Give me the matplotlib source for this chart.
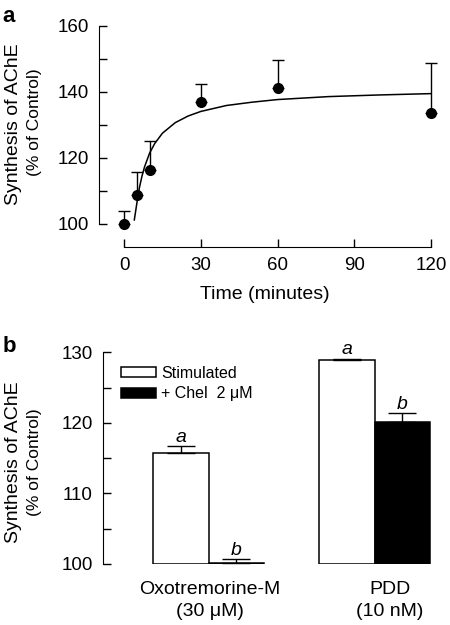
import matplotlib.pyplot as plt

plt.rcParams['font.family'] = ['Liberation Sans', 'DejaVu Sans']

# ---- panel a: time course ----
time_min = [0, 5, 10, 30, 60, 120]
synth_mean = [100.0, 108.8, 116.4, 137.1, 141.1, 133.7]
synth_err = [3.8, 6.9, 8.6, 5.2, 8.6, 15.0]

# fitted curve
fit_t = [4, 5, 6, 7, 8, 10, 12, 15, 20, 25, 30, 40, 50, 60, 80, 100, 120]
fit_y = [101.2, 106.3, 111.0, 114.5, 117.3, 121.5, 124.4, 127.5, 130.7,
         132.7, 134.1, 135.9, 136.9, 137.7, 138.6, 139.1, 139.5]

# ---- panel b: bars ----
groups = ["Oxotremorine-M\n(30 \u03bcM)", "PDD\n(10 nM)"]
stimulated = [115.8, 128.9]
stimulated_err = [0.9, 0.2]
chel = [100.2, 120.1]
chel_err = [0.45, 1.25]
series_labels = ["Stimulated", "+ Chel  2 \u03bcM"]

fig = plt.figure(figsize=(4.5, 6.25), dpi=100)

# ----------------------------------------
# Panel a
# ----------------------------------------
ax = fig.add_axes([0.22, 0.6048, 0.738, 0.3536])
ax.errorbar(time_min, synth_mean, yerr=[[0] * len(synth_err), synth_err],
            fmt='o', color='black', ms=7, capsize=4, elinewidth=1,
            capthick=1, clip_on=False, zorder=3)
ax.plot(fit_t, fit_y, color='black', lw=1.1)
ax.set_xlim(-9.8, 120)
ax.set_ylim(93, 160)
ax.spines['top'].set_visible(False)
ax.spines['right'].set_visible(False)
ax.spines['left'].set_bounds(100, 160)
ax.spines['bottom'].set_bounds(0, 120)
ax.set_yticks(range(100, 161, 10))
ax.set_yticklabels(["100", "", "120", "", "140", "", "160"])
ax.set_xticks([0, 30, 60, 90, 120])
ax.tick_params(direction='in', length=5.5, width=1, labelsize=13.5, pad=7.5)
ax.set_xlabel("Time (minutes)", fontsize=14, labelpad=8.5)
fig.text(0.031, 0.802, "Synthesis of AChE", rotation=90,
         ha='center', va='center', fontsize=14)
fig.text(0.077, 0.805, "(% of Control)", rotation=90,
         ha='center', va='center', fontsize=12.5)
fig.text(0.006, 0.974, "a", fontsize=16, fontweight='bold', va='center')

# ----------------------------------------
# Panel b
# ----------------------------------------
bx = fig.add_axes([0.2289, 0.0976, 0.729, 0.3387])
w = 0.333
xs = range(len(groups))
left_x = [x - w / 2 for x in xs]
right_x = [x + w / 2 for x in xs]
bx.bar(left_x, [v - 100 for v in stimulated], w, bottom=100, color='white',
       edgecolor='black', lw=1.1, label=series_labels[0])
bx.bar(right_x, [v - 100 for v in chel], w, bottom=100, color='black',
       edgecolor='black', lw=1.1, label=series_labels[1])
bx.errorbar(left_x, stimulated, yerr=[[0, 0], stimulated_err], fmt='none',
            ecolor='black', elinewidth=1, capsize=10, capthick=1)
bx.errorbar(right_x, chel, yerr=[[0, 0], chel_err], fmt='none',
            ecolor='black', elinewidth=1, capsize=10, capthick=1)
for x, v, e in zip(left_x, stimulated, stimulated_err):
    bx.text(x, v + e + 0.05, "a", style='italic', ha='center', va='bottom',
            fontsize=14)
for x, v, e in zip(right_x, chel, chel_err):
    bx.text(x, v + e + 0.05, "b", style='italic', ha='center', va='bottom',
            fontsize=14)

bx.set_xlim(-0.637, 1.34)
bx.set_ylim(100, 130)
for s in ['top', 'right', 'bottom']:
    bx.spines[s].set_visible(False)
bx.set_yticks(range(100, 131, 5))
bx.set_yticklabels(["100", "", "110", "", "120", "", "130"])
bx.tick_params(axis='y', direction='in', length=5.5, width=1,
               labelsize=13.5, pad=7.5)
bx.set_xticks([0.005, 1.09])
bx.set_xticklabels(groups, fontsize=14, linespacing=1.4)
bx.tick_params(axis='x', length=0, pad=12)
fig.text(0.031, 0.261, "Synthesis of AChE", rotation=90,
         ha='center', va='center', fontsize=14)
fig.text(0.077, 0.261, "(% of Control)", rotation=90,
         ha='center', va='center', fontsize=12.5)
bx.legend(loc='upper left', bbox_to_anchor=(0.055, 0.936), frameon=False,
          fontsize=11.5, handlelength=2.2, handleheight=0.6,
          handletextpad=0.3, labelspacing=0.35, borderaxespad=0,
          borderpad=0)
fig.text(0.006, 0.445, "b", fontsize=16, fontweight='bold', va='center')

fig.savefig("out.png", dpi=100)
